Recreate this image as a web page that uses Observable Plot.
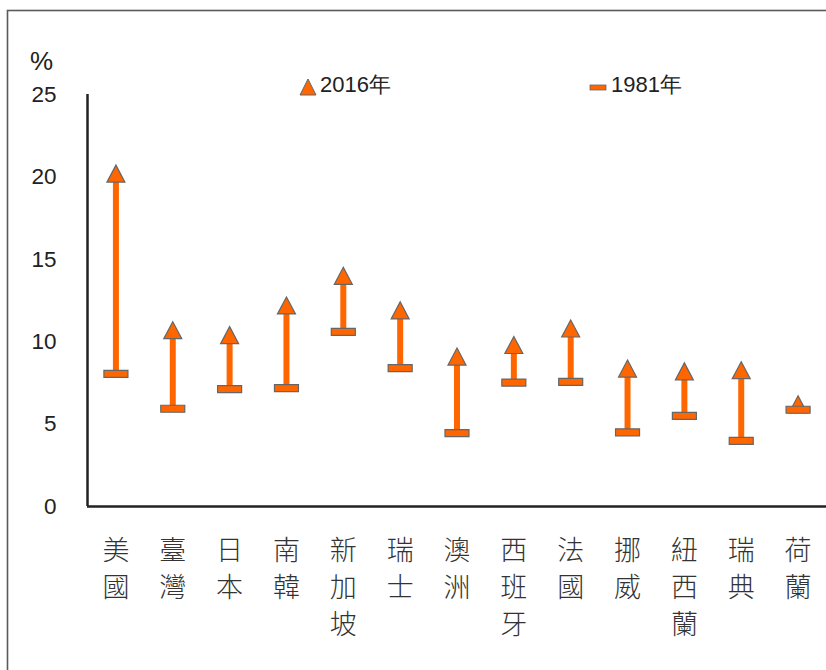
<!DOCTYPE html>
<html><head><meta charset="utf-8">
<script src="https://cdn.jsdelivr.net/npm/d3@7"></script>
<script src="https://cdn.jsdelivr.net/npm/@observablehq/plot@0.6"></script>
<style>body{margin:0;background:#fff;overflow:hidden} svg{display:block}</style>
</head><body><div id="chart"></div>
<script>
const countries = ["美國","臺灣","日本","南韓","新加坡","瑞士","澳洲","西班牙","法國","挪威","紐西蘭","瑞典","荷蘭"];
const v1981 = [8.05,5.93,7.12,7.18,10.6,8.4,4.45,7.52,7.56,4.5,5.5,3.98,5.87];
const v2016 = [20.2,10.7,10.4,12.2,14.0,11.9,9.1,9.8,10.8,8.37,8.2,8.27,6.2];
const yTicks = [0,5,10,15,20,25];
const seriesNames = ["2016年","1981年"];
const yUnit = "%";

const data = countries.map((name,i)=>({i, name, a:v1981[i], b:v2016[i]}));
const W=826, H=670;
const orange="#FF6600", edge="#666666", ink="#222222";
const tri = {draw(ctx){ctx.moveTo(0,-8.5);ctx.lineTo(9,8.5);ctx.lineTo(-9,8.5);ctx.closePath();}};
const dash = {draw(ctx){ctx.rect(-12,-3.5,24,7);}};

const plot = Plot.plot({
  width:W, height:H,
  marginLeft:87, marginRight:0, marginTop:94, marginBottom:164,
  style:{fontFamily:"'Liberation Sans', Arial, sans-serif", background:"#fff", color:ink},
  x:{type:"linear", domain:[-0.5, countries.length-0.5], axis:null},
  y:{domain:[0,25], axis:null},
  marks:[
    Plot.axisY({ticks:yTicks, tickSize:0, tickPadding:31, fontSize:22.5, label:null, fill:ink}),
    Plot.text(data, {x:"i", text:d=>d.name.split("").join("\n"), frameAnchor:"bottom", lineAnchor:"top", dy:27,
      fontSize:27, lineHeight:1.38, fontFamily:"'Noto Sans CJK TC', sans-serif", fontWeight:300, fill:"#333"}),
    Plot.ruleX(data, {x:"i", y1:"a", y2:"b", stroke:orange, strokeWidth:6}),
    Plot.dot(data, {x:"i", y:"b", symbol:tri, fill:orange, stroke:edge, strokeWidth:1.2}),
    Plot.dot(data, {x:"i", y:"a", symbol:dash, fill:orange, stroke:edge, strokeWidth:1.2}),
    Plot.ruleY([0], {stroke:ink, strokeWidth:2.5}),
    Plot.ruleX([-0.5], {y1:0, y2:25, stroke:ink, strokeWidth:2.5})
  ]
});

const svg = d3.select(plot);
// outer frame
svg.append("rect").attr("x",7.5).attr("y",10.5).attr("width",1000).attr("height",1000)
  .attr("fill","none").attr("stroke","#5a5a5a").attr("stroke-width",1.6);
// unit label
svg.append("text").attr("x",30).attr("y",63).attr("dominant-baseline","middle").attr("text-anchor","start")
  .attr("font-size",26).attr("fill",ink).attr("font-family","'Liberation Sans', Arial, sans-serif").text(yUnit);
// legend
const lg = svg.append("g").attr("font-family","'Liberation Sans', Arial, sans-serif").attr("font-size",22)
  .attr("fill",ink).attr("text-anchor","start");
lg.append("path").attr("d","M308,79 L316,95 L300,95 Z").attr("fill",orange).attr("stroke",edge).attr("stroke-width",1);
lg.append("text").attr("x",320).attr("y",86).attr("dominant-baseline","middle").text(seriesNames[0]);
lg.append("rect").attr("x",590).attr("y",85).attr("width",16).attr("height",5).attr("fill",orange).attr("stroke",edge).attr("stroke-width",0.8);
lg.append("text").attr("x",611).attr("y",86).attr("dominant-baseline","middle").text(seriesNames[1]);

document.getElementById("chart").appendChild(plot);
</script>
</body></html>
